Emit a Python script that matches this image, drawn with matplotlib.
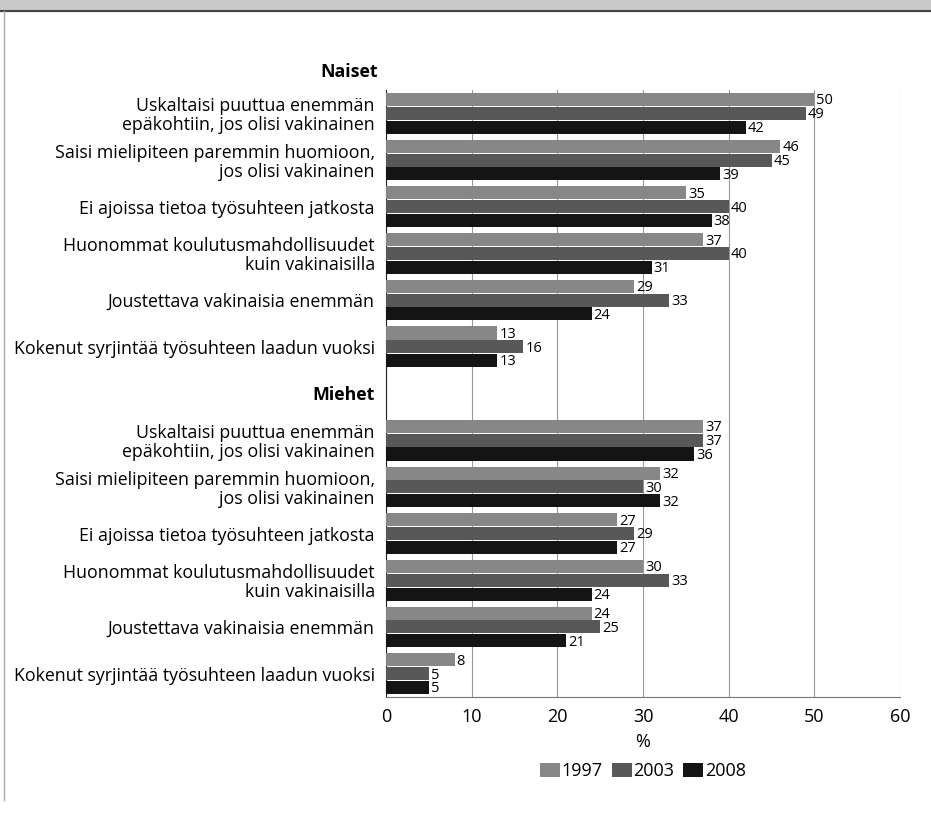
import matplotlib.pyplot as plt
import numpy as np

plt.rcParams['font.family'] = ['Open Sans', 'DejaVu Sans']

# kategoriat (sama lista naisille ja miehille)
labels = ['Uskaltaisi puuttua enemmän\nepäkohtiin, jos olisi vakinainen',
          'Saisi mielipiteen paremmin huomioon,\njos olisi vakinainen',
          'Ei ajoissa tietoa työsuhteen jatkosta',
          'Huonommat koulutusmahdollisuudet\nkuin vakinaisilla',
          'Joustettava vakinaisia enemmän',
          'Kokenut syrjintää työsuhteen laadun vuoksi']
years = ['1997', '2003', '2008']

naiset_1997 = [50, 46, 35, 37, 29, 13]
naiset_2003 = [49, 45, 40, 40, 33, 16]
naiset_2008 = [42, 39, 38, 31, 24, 13]

miehet_1997 = [37, 32, 27, 30, 24, 8]
miehet_2003 = [37, 30, 29, 33, 25, 5]
miehet_2008 = [36, 32, 27, 24, 21, 5]

colors = ['#878787', '#585858', '#141414']

fig = plt.figure(figsize=(9.31, 8.14), dpi=100)
ax = fig.add_axes([386/931, 1-697/814, 514/931, 607/814])

# harmaa yläpalkki ja reunaviiva
fig.patches.append(plt.Rectangle((0, 1-11/814), 1, 11/814, transform=fig.transFigure,
                                 color='#c9c9c9', zorder=0))
fig.lines.append(plt.Line2D([0, 1], [1-11/814, 1-11/814], transform=fig.transFigure,
                            color='#444444', lw=1.5))
fig.lines.append(plt.Line2D([4/931, 4/931], [1-11/814, 1-800/814], transform=fig.transFigure,
                            color='#aaaaaa', lw=1))

pos_n = np.arange(6)
pos_m = np.arange(6) + 7
h = 0.28
offs = [-0.295, 0, 0.295]

data_n = [naiset_1997, naiset_2003, naiset_2008]
data_m = [miehet_1997, miehet_2003, miehet_2008]

for k in range(3):
    for pos, vals in [(pos_n, data_n[k]), (pos_m, data_m[k])]:
        bars = ax.barh(pos + offs[k], vals, height=h, color=colors[k],
                       label=years[k] if pos[0] == 0 else None, zorder=3)
        for b, v in zip(bars, vals):
            ax.text(v + 0.25, b.get_y() + b.get_height()/2 + 0.03, str(v),
                    va='center', ha='left', fontsize=10.5, zorder=4)

ax.set_ylim(12.5, -0.5)
ax.set_xlim(0, 60)
ax.set_xticks(range(0, 61, 10))
ax.set_yticks(list(pos_n) + [6] + list(pos_m))
ax.set_yticklabels(labels + ['Miehet'] + labels, fontsize=12.8, linespacing=1.05)
ax.get_yticklabels()[6].set_fontweight('bold')
ax.tick_params(axis='y', length=0, pad=8)
ax.tick_params(axis='x', length=0, labelsize=13, pad=8)

ax.text(-0.0155, -0.88, 'Naiset', transform=ax.get_yaxis_transform(),
        ha='right', va='center', fontsize=12.8, fontweight='bold', clip_on=False)

ax.grid(axis='x', color='#999999', lw=0.8, zorder=0)
for s in ['top', 'right']:
    ax.spines[s].set_visible(False)
ax.spines['left'].set_color('#222222')
ax.spines['bottom'].set_color('#777777')

ax.set_xlabel('%', fontsize=13, labelpad=5)
ax.legend(loc='center', bbox_to_anchor=(0.5, -0.122), ncol=3, frameon=False,
          fontsize=13, handlelength=1.1, handleheight=0.8, handletextpad=0.1,
          columnspacing=0.5)

fig.savefig('out.png', dpi=100)
